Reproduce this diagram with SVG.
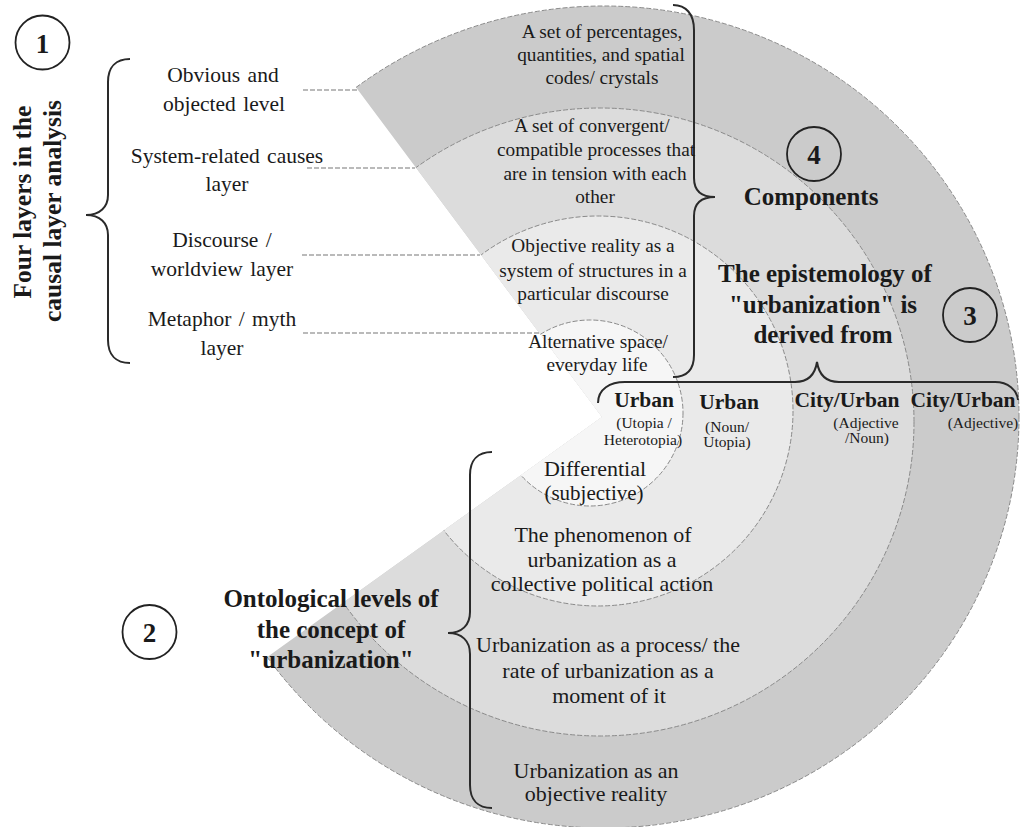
<svg xmlns="http://www.w3.org/2000/svg" width="1021" height="827" viewBox="0 0 1021 827">
<style>
text{font-family:"Liberation Serif","Times New Roman",serif;fill:#1a1a1a;text-anchor:middle}
.lbl{font-size:21.5px;word-spacing:2px}
.up{font-size:19.3px}
.lo{font-size:22px}
.ttl{font-size:25px;font-weight:bold}
.hd{font-size:21.5px;font-weight:bold}
.sub{font-size:15.5px}
.num{font-size:27px;font-weight:bold}
.ring{stroke:#8a8a8a;stroke-width:1;stroke-dasharray:5 2}
.lead{fill:none;stroke:#777;stroke-width:1.2;stroke-dasharray:5 2}
.brace{fill:none;stroke:#2a2a2a;stroke-width:2}
.badge{fill:none;stroke:#222;stroke-width:1.8}
</style>
<defs>
<clipPath id="cut">
<polygon points="602,417 -130,-564 1200,-564 1200,1200 -373,1116"/>
</clipPath>
</defs>
<rect width="1021" height="827" fill="#ffffff"/>
<g id="rings" clip-path="url(#cut)">
<ellipse id="ring4" class="ring" cx="604" cy="417" rx="415" ry="411" fill="#cbcbcb"/>
<circle id="ring3" class="ring" cx="600" cy="422" r="314" fill="#dcdcdc"/>
<circle id="ring2" class="ring" cx="598" cy="411" r="195" fill="#eaeaea"/>
<circle id="ring1" class="ring" cx="590" cy="413" r="93" fill="#f6f6f6"/>
</g>
<g id="connectors">
<line class="lead" x1="303" y1="90" x2="358" y2="90"/>
<line class="lead" x1="307" y1="168" x2="415" y2="168"/>
<line class="lead" x1="302" y1="255" x2="480" y2="255"/>
<line class="lead" x1="303" y1="333" x2="540" y2="333"/>
<path class="brace" d="M130,59 C116,59 108,67 108,82 L108,195 C108,207 100,215 86,215 C100,215 108,223 108,235 L108,340 C108,355 116,363 130,363"/>
<path class="brace" d="M492,452 C478,452 470,460 470,475 L470,612 C470,625 462,633 448,633 C462,633 470,641 470,654 L470,785 C470,800 478,808 492,808"/>
<path class="brace" d="M673,5 C686,5 694,14 694,30 L694,178 C694,190 701,197 715,197 C701,197 694,204 694,216 L694,355 C694,370 686,377 673,377"/>
<path class="brace" d="M598,403 C598,389 610,382 625,382 L795,382 C808,382 815,375 817,362 C819,375 826,382 839,382 L995,382 C1008,382 1017,390 1018,400"/>
</g>
<g id="badge1"><circle class="badge" cx="42.5" cy="42.5" r="27"/><text class="num" x="42.5" y="52.5">1</text></g>
<g id="badge2"><circle class="badge" cx="149.5" cy="632" r="27"/><text class="num" x="149.5" y="642">2</text></g>
<g id="badge3"><circle class="badge" cx="970" cy="315" r="27"/><text class="num" x="970" y="325">3</text></g>
<g id="badge4"><circle class="badge" cx="814" cy="154" r="27"/><text class="num" x="814" y="164">4</text></g>
<g id="title-causal" transform="rotate(-90)">
<text class="ttl" style="font-size:25.5px" x="-202" y="31">Four layers in the</text>
<text class="ttl" style="font-size:25.5px" x="-211" y="61">causal layer analysis</text>
</g>
<g id="layer-labels">
<text class="lbl" x="223" y="82">Obvious and</text>
<text class="lbl" x="224" y="111">objected level</text>
<text class="lbl" x="227" y="163">System-related causes</text>
<text class="lbl" x="227" y="191">layer</text>
<text class="lbl" x="222" y="247">Discourse /</text>
<text class="lbl" x="222" y="276">worldview layer</text>
<text class="lbl" x="222" y="326">Metaphor / myth</text>
<text class="lbl" x="222" y="355">layer</text>
</g>
<g id="components-labels">
<text class="up" x="602" y="38">A set of percentages,</text>
<text class="up" x="601" y="61">quantities, and spatial</text>
<text class="up" x="602" y="84">codes/ crystals</text>
<text class="up" x="592" y="132">A set of convergent/</text>
<text class="up" x="596" y="156">compatible processes that</text>
<text class="up" x="595" y="180">are in tension with each</text>
<text class="up" x="595" y="203">other</text>
<text class="up" x="593" y="252">Objective reality as a</text>
<text class="up" x="593" y="277">system of structures in a</text>
<text class="up" x="593" y="300">particular discourse</text>
<text class="up" x="598" y="348">Alternative space/</text>
<text class="up" x="597" y="371">everyday life</text>
</g>
<g id="components-title">
<text class="ttl" x="811" y="205">Components</text>
</g>
<g id="epistemology-title">
<text class="ttl" x="825" y="282">The epistemology of</text>
<text class="ttl" x="823" y="313">"urbanization" is</text>
<text class="ttl" x="823" y="343">derived from</text>
</g>
<g id="epistemology-columns">
<text class="hd" x="644" y="407">Urban</text>
<text class="sub" x="644" y="428">(Utopia /</text>
<text class="sub" x="643" y="445">Heterotopia)</text>
<text class="hd" x="729" y="409">Urban</text>
<text class="sub" x="727" y="432">(Noun/</text>
<text class="sub" x="727" y="447">Utopia)</text>
<text class="hd" x="847" y="407">City/Urban</text>
<text class="sub" x="866" y="428">(Adjective</text>
<text class="sub" x="867" y="443">/Noun)</text>
<text class="hd" x="963" y="407">City/Urban</text>
<text class="sub" x="983" y="428">(Adjective)</text>
</g>
<g id="ontology-title">
<text class="ttl" x="331" y="607">Ontological levels of</text>
<text class="ttl" x="331" y="638">the concept of</text>
<text class="ttl" x="331" y="668">"urbanization"</text>
</g>
<g id="ontology-labels">
<text class="lo" x="595" y="476">Differential</text>
<text class="lo" style="font-size:21px" x="594" y="500">(subjective)</text>
<text class="lo" x="603" y="542">The phenomenon of</text>
<text class="lo" x="602" y="567">urbanization as a</text>
<text class="lo" x="602" y="591">collective political action</text>
<text class="lo" x="608" y="652">Urbanization as a process/ the</text>
<text class="lo" x="608" y="678">rate of urbanization as a</text>
<text class="lo" x="609" y="703">moment of it</text>
<text class="lo" x="596" y="778">Urbanization as an</text>
<text class="lo" x="596" y="801">objective reality</text>
</g>
</svg>
